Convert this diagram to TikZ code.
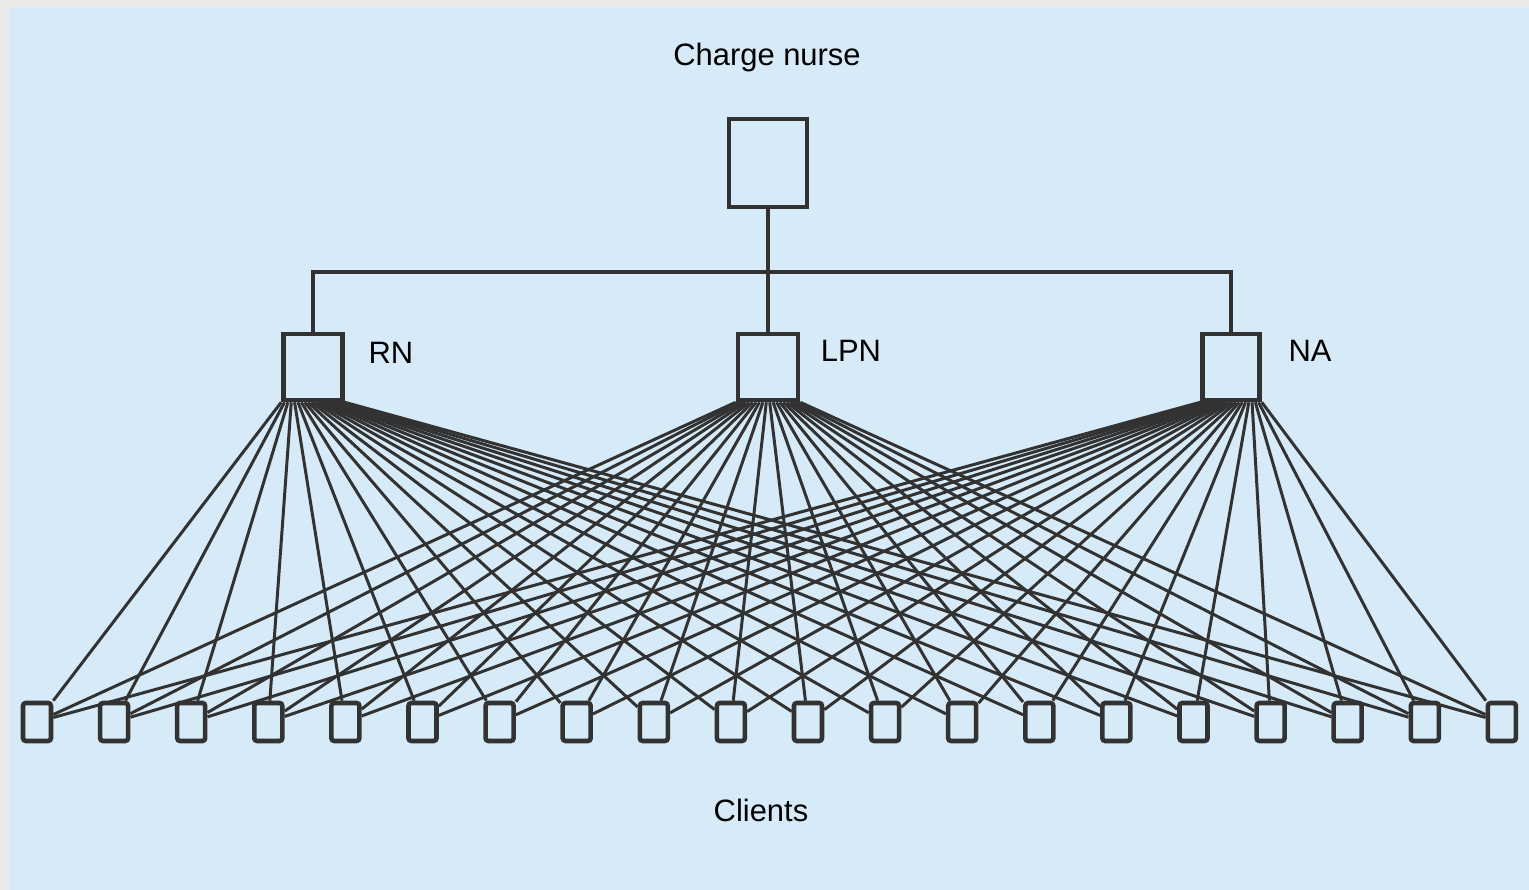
\documentclass[tikz,border=0pt]{standalone}
\usepackage{fontspec}
\setmainfont{Liberation Sans}
\usetikzlibrary{calc}
\definecolor{paper}{RGB}{214,234,247}
\definecolor{frame}{RGB}{236,234,231}
\definecolor{ink}{RGB}{50,50,50}

\begin{document}
\begin{tikzpicture}[
  font=\fontsize{8.8}{10}\selectfont,
  box/.style={draw=ink, line width=1.3pt, inner sep=0pt},
  client/.style={box, minimum width=0.28cm, minimum height=0.38cm, rounded corners=0.8pt},
  link/.style={draw=ink, line width=0.85pt}]
\useasboundingbox (0,0) rectangle (15.29,8.90);
\fill[frame] (0,0) rectangle (15.29,8.90);
\fill[paper] (0.09,0) rectangle (15.29,8.83);

\node[box, minimum width=0.78cm, minimum height=0.88cm] (CN) at (7.68,7.27) {};
\node[box, minimum width=0.59cm, minimum height=0.66cm] (RN) at (3.13,5.23) {};
\node[box, minimum width=0.60cm, minimum height=0.66cm] (LPN) at (7.68,5.23) {};
\node[box, minimum width=0.57cm, minimum height=0.66cm] (NA) at (12.31,5.23) {};

\node (CNtext) at (7.67,8.32) {Charge nurse};
\node (RNtext) at (3.91,5.37) {RN};
\node (LPNtext) at (8.51,5.39) {LPN};
\node (NAtext) at (13.10,5.39) {NA};
\node (clients) at (7.61,0.80) {Clients};

\coordinate (barL) at (3.13,6.18);
\coordinate (barR) at (12.31,6.18);
\draw[link, line width=1pt] (RN.north) -- (barL) -- (barR) -- (NA.north);
\draw[link, line width=1pt] (CN.south) -- (LPN.north);

\foreach \i in {0,...,19}
  \node[client] (c\i) at ({0.37+0.771*\i},1.68) {};

\foreach \s in {RN,LPN,NA}
  \foreach \i in {0,...,19}
    \draw[link] ($(\s.south west)!\i/19!(\s.south east)$) -- (c\i);
\end{tikzpicture}
\end{document}
